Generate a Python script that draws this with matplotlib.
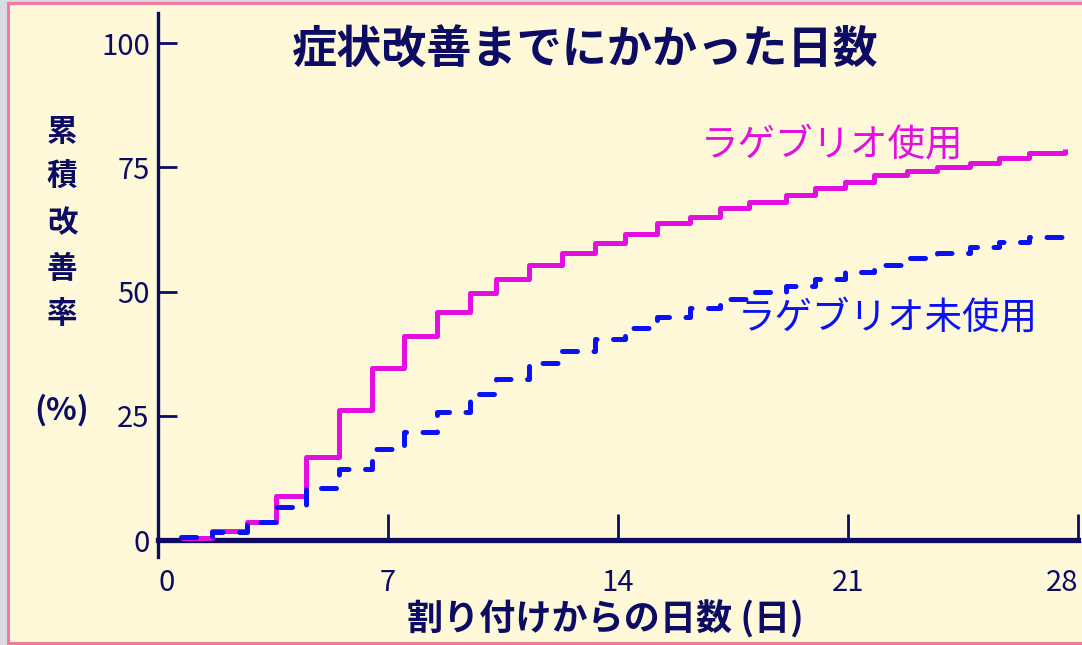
import matplotlib
matplotlib.use("Agg")
import matplotlib.pyplot as plt
from matplotlib.patches import Rectangle

plt.rcParams['font.family'] = ['Noto Sans CJK JP', 'DejaVu Sans']

# data, step start day -> cumulative % improved
step_days = [0.7, 1.65, 2.7, 3.6, 4.5, 5.5, 6.5, 7.5, 8.5, 9.5,
             10.3, 11.3, 12.3, 13.3, 14.2, 15.2, 16.2, 17.1, 18.0, 19.1,
             20.0, 20.9, 21.8, 22.8, 23.7, 24.7, 25.6, 26.5, 27.6]
lagevrio_pct = [0.5, 1.8, 3.6, 8.9, 16.7, 26.2, 34.6, 41.1, 45.9, 49.7,
                52.5, 55.3, 57.7, 59.8, 61.6, 63.8, 65.0, 66.8, 68.0, 69.4,
                70.8, 72.0, 73.4, 74.2, 75.0, 75.9, 76.9, 77.9, 78.7]
no_lagevrio_pct = [0.6, 1.6, 3.6, 6.6, 10.5, 14.3, 18.3, 21.8, 25.8, 29.3,
                   32.3, 35.6, 38.0, 40.4, 42.7, 44.9, 46.7, 48.4, 50.0, 51.2,
                   52.6, 54.0, 55.3, 56.7, 57.7, 59.0, 60.0, 61.0, 62.8]

x_ticks = [0, 7, 14, 21, 28]
y_ticks = [0, 25, 50, 75, 100]

NAVY = "#0c0c62"
MAGENTA = "#e30ee0"
BLUE = "#0a12f2"
CREAM = "#fff9da"

fig = plt.figure(figsize=(10.82, 6.45), dpi=100, facecolor="#d6dde0")
fig.patches.append(Rectangle((8 / 1082, 2 / 645), 1.0, 640 / 645,
                             transform=fig.transFigure, facecolor=CREAM,
                             edgecolor="#f07aa0", linewidth=2.2, zorder=-5))

ax = fig.add_axes([158 / 1082, 0.1358, 920 / 1082, 0.8437])
ax.patch.set_visible(False)
ax.set_zorder(2)

# the last value of each list is the little end tick, drawn at the same day
xs = step_days + [step_days[-1] + 0.01]
ax.plot(xs, lagevrio_pct[:-1] + lagevrio_pct[-1:] * 2, drawstyle="steps-post",
        color=MAGENTA, lw=3.6, solid_capstyle="butt", zorder=3)
ax.plot(xs, no_lagevrio_pct[:-1] + no_lagevrio_pct[-1:] * 2, drawstyle="steps-post",
        color=BLUE, lw=3.6, linestyle=(0, (3, 3.3)), dash_capstyle="round", zorder=4)

ax.set_xlim(0, 28)
ax.set_ylim(-3.5, 106)
for s in ["top", "right"]:
    ax.spines[s].set_visible(False)
ax.spines["bottom"].set_position(("data", 0))
ax.spines["bottom"].set_linewidth(3.8)
ax.spines["left"].set_linewidth(2.4)
ax.spines["bottom"].set_color(NAVY)
ax.spines["left"].set_color(NAVY)

ax.set_xticks(x_ticks)
ax.set_xticks(x_ticks, minor=True)
ax.set_yticks(y_ticks)
ax.set_yticks(y_ticks, minor=True)
ax.tick_params(axis="x", which="major", direction="in", length=19, width=2, color=NAVY,
               pad=20, labelsize=21, labelcolor=NAVY)
ax.tick_params(axis="x", which="minor", direction="out", length=11, width=2, color=NAVY,
               labelbottom=False)
ax.tick_params(axis="y", which="major", direction="in", length=14, width=2, color=NAVY,
               pad=6, labelsize=21, labelcolor=NAVY)
ax.tick_params(axis="y", which="minor", direction="out", length=6, width=2, color=NAVY,
               labelleft=False)
ax.set_xticklabels([str(t) for t in x_ticks])
ax.get_xticklabels()[-1].set_horizontalalignment("right")
ax.get_xticklabels()[0].set_horizontalalignment("left")

ax.text(20.5, 79.5, "ラゲブリオ使用", color=MAGENTA, fontsize=27, ha="center", va="center")
ax.text(22.2, 44.7, "ラゲブリオ未使用", color=BLUE, fontsize=27, ha="center", va="center")

fig.text(585 / 1082, 1 - 50 / 645, "症状改善までにかかった日数", color=NAVY,
         fontsize=32.5, fontweight="bold", ha="center", va="center")
fig.text(62 / 1082, 1 - 223 / 645, "\n".join("累積改善率"), color=NAVY,
         fontsize=22, fontweight="bold", ha="center", va="center", linespacing=1.55)
fig.text(62 / 1082, 1 - 410 / 645, "(%)", color=NAVY, fontsize=23,
         fontweight="bold", ha="center", va="center")
fig.text(605 / 1082, 1 - 620 / 645, "割り付けからの日数 (日)", color=NAVY,
         fontsize=26, fontweight="bold", ha="center", va="center")

fig.savefig("out.png", dpi=100, facecolor=fig.get_facecolor())
